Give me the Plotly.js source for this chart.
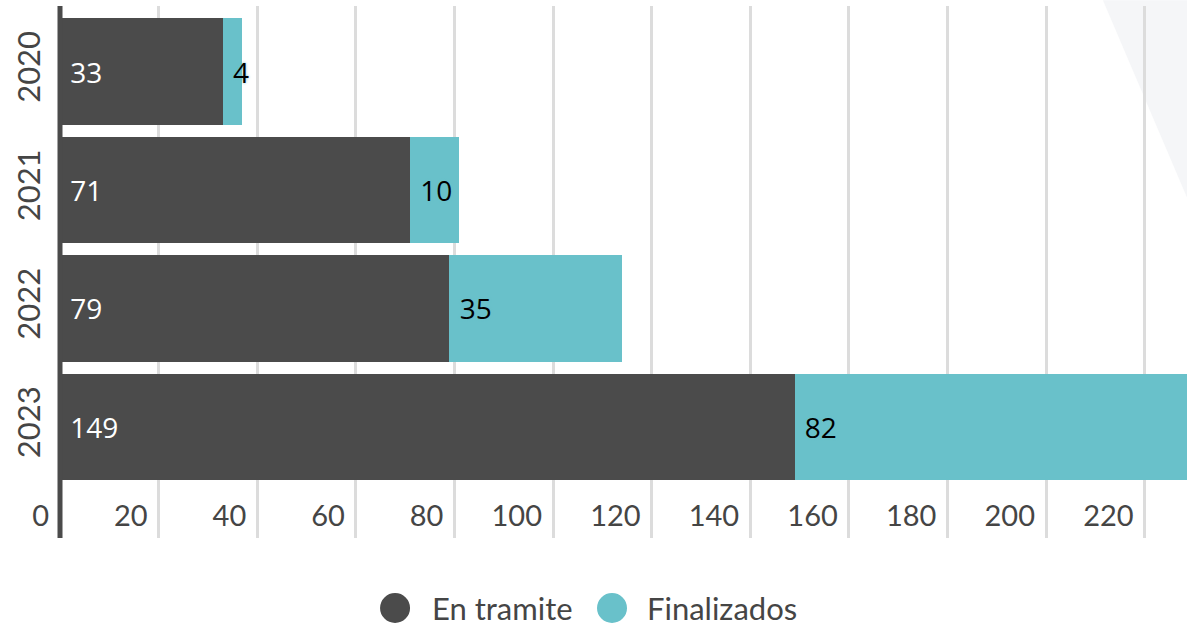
<!DOCTYPE html>
<html>
<head>
<meta charset="utf-8">
<script src="https://cdn.plot.ly/plotly-3.0.1.min.js"></script>
<style>html,body{margin:0;padding:0;background:#fff;}#chart{width:1187px;height:627px;}</style>
</head>
<body>
<div id="chart"></div>
<script>
const years = ["2020", "2021", "2022", "2023"];
const enTramite = [33, 71, 79, 149];
const finalizados = [4, 10, 35, 82];
const seriesNames = ["En tramite", "Finalizados"];
const xTickValues = [0, 20, 40, 60, 80, 100, 120, 140, 160, 180, 200, 220];

const DARK = "#4b4b4b";
const TEAL = "#69c1ca";
const nb = "\u00a0";

const traces = [
  {
    type: "bar", orientation: "h", name: seriesNames[0],
    y: years, x: enTramite,
    text: enTramite.map(v => nb + v),
    textposition: "inside", insidetextanchor: "start", constraintext: "none",
    insidetextfont: {family: "Open Sans", size: 28, color: "#ffffff"},
    marker: {color: DARK, line: {width: 0}},
    showlegend: false
  },
  {
    type: "bar", orientation: "h", name: seriesNames[1],
    y: years, x: finalizados,
    text: finalizados.map(v => nb + v),
    textposition: "inside", insidetextanchor: "start", constraintext: "none",
    insidetextfont: {family: "Open Sans", size: 28, color: "#000000", shadow: "0px 0px 3px " + TEAL},
    marker: {color: TEAL, line: {width: 0}},
    showlegend: false
  }
];

const legY = -0.1316;
const legFont = {family: "Lato", size: 31, color: "#454545"};
const layout = {
  width: 1187, height: 627,
  margin: {l: 60, r: 0, t: 6, b: 89, pad: 0},
  paper_bgcolor: "#ffffff", plot_bgcolor: "rgba(0,0,0,0)",
  barmode: "stack", bargap: 0.1,
  showlegend: false,
  hovermode: false,
  xaxis: {
    range: [0, 228.6],
    tickvals: xTickValues,
    ticktext: xTickValues.map(String),
    showgrid: true, gridcolor: "#dcdcdc", gridwidth: 3,
    zeroline: false, showline: false, ticks: "",
    ticklabelposition: "inside left",
    ticklabeloverflow: "allow",
    ticklabelshift: -11,
    tickfont: {family: "Lato", size: 29, color: "#454545"},
    fixedrange: true
  },
  yaxis: {
    type: "category", categoryorder: "array", categoryarray: years,
    range: [3.937, -0.553],
    tickangle: -90,
    ticklabelstandoff: 13,
    tickfont: {family: "Lato", size: 31, color: "#454545"},
    showline: false,
    showgrid: false, zeroline: false, ticks: "",
    fixedrange: true
  },
  shapes: [
    {type: "path", xref: "paper", yref: "paper", layer: "below",
     path: "M 0.9254 1.011 L 1 1.011 L 1 0.64 Z", fillcolor: "#f5f6f8", line: {width: 0}},
    {type: "line", xref: "paper", yref: "paper", layer: "above",
     x0: 0, x1: 0, y0: 0, y1: 1, line: {color: DARK, width: 5}},
    {type: "circle", xref: "paper", yref: "paper", xsizemode: "pixel", ysizemode: "pixel",
     xanchor: 0.2973, yanchor: legY, x0: -15, x1: 15, y0: -15, y1: 15,
     fillcolor: DARK, line: {width: 0}},
    {type: "circle", xref: "paper", yref: "paper", xsizemode: "pixel", ysizemode: "pixel",
     xanchor: 0.4898, yanchor: legY, x0: -15, x1: 15, y0: -15, y1: 15,
     fillcolor: TEAL, line: {width: 0}}
  ],
  annotations: [
    {xref: "paper", yref: "paper", x: 0.3283, y: legY, xanchor: "left", yanchor: "middle",
     text: seriesNames[0], showarrow: false, font: legFont},
    {xref: "paper", yref: "paper", x: 0.5191, y: legY, xanchor: "left", yanchor: "middle",
     text: seriesNames[1], showarrow: false, font: legFont}
  ]
};

Plotly.newPlot("chart", traces, layout, {staticPlot: true, displayModeBar: false});
</script>
</body>
</html>
